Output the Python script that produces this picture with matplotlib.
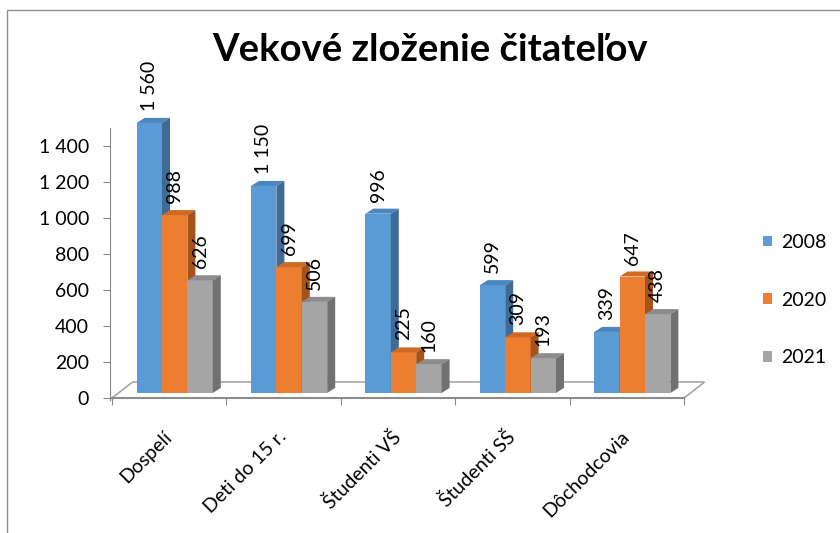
import matplotlib
matplotlib.use("Agg")
import matplotlib.pyplot as plt
from matplotlib.patches import Polygon, Rectangle, Patch
from matplotlib.ticker import FuncFormatter

plt.rcParams["font.family"] = ["Lato", "DejaVu Sans"]

# údaje
categories = ["Dospelí", "Deti do 15 r.", "Študenti VŠ", "Študenti SŠ", "Dôchodcovia"]
series_names = ["2008", "2020", "2021"]
values_2008 = [1560, 1150, 996, 599, 339]
values_2020 = [988, 699, 225, 309, 647]
values_2021 = [626, 506, 160, 193, 438]
yticks = [0, 200, 400, 600, 800, 1000, 1200, 1400]

series = [values_2008, values_2020, values_2021]
front = ["#5B9BD5", "#ED7D31", "#A5A5A5"]
top_c = ["#4C86BE", "#CF6A23", "#8C8C8C"]
side_c = ["#3E6C98", "#A6521B", "#717171"]

ymax = 1500
base = 28        # predná hrana stĺpcov nad podlahou
dx = 0.07        # hĺbka 3D (x)
dy = 28          # hĺbka 3D (y)
bw = 0.222
start = 0.215

fig = plt.figure(figsize=(8.4, 5.33), dpi=100)
ax = fig.add_axes([112 / 840, 1 - 398 / 533, 572 / 840, 270 / 533])
ax.set_xlim(0, 5)
ax.set_ylim(0, ymax)

# podlaha
fx, fy = 0.18, 89
floor = Polygon([(0, 0), (5, 0), (5 + fx, fy), (fx, fy)], closed=True,
                facecolor="white", edgecolor="#A6A6A6", lw=1.2, clip_on=False, zorder=1)
ax.add_patch(floor)
ax.plot([0, 5], [0, 0], color="#8C8C8C", lw=1.5, clip_on=False, zorder=1.5)

# stĺpce
for i in range(len(categories)):
    for j, vals in enumerate(series):
        v = vals[i]
        h = min(v, ymax)
        x0 = i + start + j * bw
        x1 = x0 + bw
        top = base + h
        ax.bar(x0, h, width=bw, bottom=base, align="edge", color=front[j],
               clip_on=False, zorder=2 + i * 3 + j)
        ax.add_patch(Polygon([(x0, top), (x1, top), (x1 + dx, top + dy), (x0 + dx, top + dy)],
                             closed=True, facecolor=top_c[j], edgecolor="none",
                             clip_on=False, zorder=2 + i * 3 + j))
        ax.add_patch(Polygon([(x1, base), (x1 + dx, base + dy), (x1 + dx, top + dy), (x1, top)],
                             closed=True, facecolor=side_c[j], edgecolor="none",
                             clip_on=False, zorder=2 + i * 3 + j))
        lab = f"{v:,}".replace(",", " ")
        ax.annotate(lab, xy=(x0 + bw / 2, top + dy), xytext=(0, 5), textcoords="offset points",
                    rotation=90, ha="center", va="bottom", fontsize=14, zorder=30,
                    annotation_clip=False)

# os y
for s in ["top", "right", "bottom"]:
    ax.spines[s].set_visible(False)
ax.spines["left"].set_position(("data", -0.017))
ax.spines["left"].set_bounds(-11, ymax)
ax.spines["left"].set_color("#868686")
ax.set_yticks(yticks)
ax.yaxis.set_major_formatter(FuncFormatter(lambda v, p: f"{int(v):,}".replace(",", " ")))
ax.tick_params(axis="y", length=5, color="#868686", labelsize=14, pad=10)

# os x
ax.set_xticks(range(len(categories) + 1))
ax.set_xticklabels([])
ax.tick_params(axis="x", length=5, color="#868686", direction="out")
for i, c in enumerate(categories):
    ax.annotate(c, xy=(i + 0.5, 0), xytext=(0, -26), textcoords="offset points",
                rotation=45, ha="right", va="center", rotation_mode="anchor", fontsize=14,
                annotation_clip=False)

# legenda
handles = [Patch(facecolor=front[j], edgecolor="none") for j in range(3)]
fig.legend(handles, series_names, loc="center left", bbox_to_anchor=(763 / 840, 1 - 300 / 533),
           frameon=False, fontsize=14, handlelength=0.45, handleheight=0.45,
           handletextpad=0.5, labelspacing=2.1, borderpad=0, borderaxespad=0)

fig.text(430 / 840, 1 - 50 / 533, "Vekové zloženie čitateľov", ha="center", va="center",
         fontsize=27.5, fontweight="bold")

# rám grafu
fig.add_artist(Rectangle((7 / 840, -0.2), 1.5, 1.2 - 10 / 533, transform=fig.transFigure,
                         fill=False, edgecolor="#8F8F8F", lw=1))

fig.savefig("out.png", dpi=100)
